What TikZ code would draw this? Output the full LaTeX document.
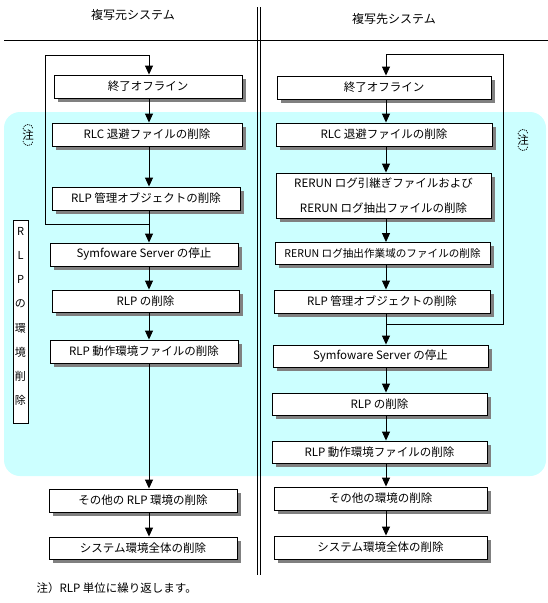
\documentclass[tikz,border=0pt]{standalone}
\usepackage{fontspec}
\setmainfont{Noto Sans CJK JP}
\usetikzlibrary{arrows.meta,shadows}
\definecolor{cyanbg}{RGB}{204,255,255}
\definecolor{shadowgray}{RGB}{128,128,128}
\tikzset{
  stepbox/.style={draw, fill=white, line width=0.9pt, inner sep=0pt,
    drop shadow={shadow xshift=3.5pt, shadow yshift=-3.5pt, fill=shadowgray, opacity=1},
    font=\fontsize{11.5}{14}\selectfont},
  flow/.style={line width=0.9pt, -{Triangle[width=8pt,length=9pt]}},
  plainline/.style={line width=0.9pt},
  headtext/.style={font=\fontsize{12}{14}\selectfont},
  notemark/.style={font=\fontsize{11.5}{14}\selectfont},
  notearc/.style={line width=0.7pt, dash pattern=on 1.2pt off 0.9pt}
}
\begin{document}
\begin{tikzpicture}[x=1pt,y=-1pt]
\useasboundingbox (0,0) rectangle (548,603);
% background region
\fill[cyanbg, rounded corners=16pt] (4,112) rectangle (546,476);
% headers and separators
\node[headtext] (hl) at (133,15) {複写元システム};
\node[headtext] (hr) at (394,19) {複写先システム};
\draw[plainline] (4,40.5) -- (548,40.5);
\draw[plainline] (257,7) -- (257,575);
\draw[plainline] (260.5,7) -- (260.5,575);
% column coordinates
\coordinate (cl) at (149,0);
\coordinate (cr) at (386,0);
% left boxes
\node[stepbox, minimum width=188pt, minimum height=23pt] (L1) at (148,86.5) {終了オフライン};
\node[stepbox, minimum width=190pt, minimum height=23pt] (L2) at (147,134.5) {RLC 退避ファイルの削除};
\node[stepbox, minimum width=188pt, minimum height=23pt] (L3) at (146,198.5) {RLP 管理オブジェクトの削除};
\node[stepbox, minimum width=188pt, minimum height=23pt] (L4) at (144,254.5) {Symfoware Server の停止};
\node[stepbox, minimum width=187pt, minimum height=22pt] (L5) at (145.5,301) {RLP の削除};
\node[stepbox, minimum width=188pt, minimum height=23pt] (L6) at (144,351.5) {RLP 動作環境ファイルの削除};
\node[stepbox, minimum width=188pt, minimum height=23pt] (L7) at (143,500.5) {その他の RLP 環境の削除};
\node[stepbox, minimum width=188pt, minimum height=22pt] (L8) at (143,548) {システム環境全体の削除};
% right boxes
\node[stepbox, minimum width=214pt, minimum height=23pt] (R1) at (384,87.5) {終了オフライン};
\node[stepbox, minimum width=216pt, minimum height=23pt] (R2) at (384,134.5) {RLC 退避ファイルの削除};
\node[stepbox, minimum width=215pt, minimum height=45pt, align=center, font=\fontsize{11.5}{25}\selectfont] (R3) at (383.5,195.5) {RERUN ログ引継ぎファイルおよび\\RERUN ログ抽出ファイルの削除};
\node[stepbox, minimum width=215pt, minimum height=22pt, font=\fontsize{10.6}{13}\selectfont] (R4) at (382.5,253.5) {RERUN ログ抽出作業域のファイルの削除};
\node[stepbox, minimum width=216pt, minimum height=23pt] (R5) at (382,301.5) {RLP 管理オブジェクトの削除};
\node[stepbox, minimum width=215pt, minimum height=22pt] (R6) at (380.5,356) {Symfoware Server の停止};
\node[stepbox, minimum width=215pt, minimum height=22pt] (R7) at (379.5,404) {RLP の削除};
\node[stepbox, minimum width=215pt, minimum height=22pt] (R8) at (379.5,452) {RLP 動作環境ファイルの削除};
\node[stepbox, minimum width=213pt, minimum height=23pt] (R9) at (380.5,498.5) {その他の環境の削除};
\node[stepbox, minimum width=213pt, minimum height=23pt] (R10) at (380.5,547.5) {システム環境全体の削除};
% left arrows
\draw[flow] (L1.south -| cl) -- (L2.north -| cl);
\draw[flow] (L2.south -| cl) -- (L3.north -| cl);
\draw[flow] (L3.south -| cl) -- (L4.north -| cl);
\draw[flow] (L4.south -| cl) -- (L5.north -| cl);
\draw[flow] (L5.south -| cl) -- (L6.north -| cl);
\draw[flow] (L6.south -| cl) -- (L7.north -| cl);
\draw[flow] (L7.south -| cl) -- (L8.north -| cl);
% left loop
\coordinate (jl) at (149,224);
\coordinate (lcorner) at (45,55);
\draw[flow] (jl) -| (lcorner) -| (L1.north -| cl);
% right arrows
\draw[flow] (R1.south -| cr) -- (R2.north -| cr);
\draw[flow] (R2.south -| cr) -- (R3.north -| cr);
\draw[flow] (R3.south -| cr) -- (R4.north -| cr);
\draw[flow] (R4.south -| cr) -- (R5.north -| cr);
\draw[flow] (R5.south -| cr) -- (R6.north -| cr);
\draw[flow] (R6.south -| cr) -- (R7.north -| cr);
\draw[flow] (R7.south -| cr) -- (R8.north -| cr);
\draw[flow] (R8.south -| cr) -- (R9.north -| cr);
\draw[flow] (R9.south -| cr) -- (R10.north -| cr);
% right loop
\coordinate (jr) at (386,324);
\coordinate (rcorner) at (503,54);
\draw[flow] (jr) -| (rcorner) -| (R1.north -| cr);
% vertical label box
\node[draw, fill=white, line width=0.9pt, minimum width=15pt, minimum height=203pt, inner sep=0pt] (vbox) at (20.5,321.5) {};
\node[align=center, inner sep=0pt, font=\fontsize{11}{24.2}\selectfont] (vtext) at (20.5,316.5) {R\\L\\P\\の\\環\\境\\削\\除};
% notes
\node[notemark] (nl) at (28,135) {注};
\draw[notearc] (23,129) .. controls (23,123) and (33,123) .. (33,129);
\draw[notearc] (23,141) .. controls (23,147) and (33,147) .. (33,141);
\node[notemark] (nr) at (523,140) {注};
\draw[notearc] (518,134) .. controls (518,128) and (528,128) .. (528,134);
\draw[notearc] (518,146) .. controls (518,152) and (528,152) .. (528,146);
% footnote
\node[anchor=west, font=\fontsize{11.5}{14}\selectfont] (fn) at (33,588) {注）RLP 単位に繰り返します。};
\end{tikzpicture}
\end{document}
